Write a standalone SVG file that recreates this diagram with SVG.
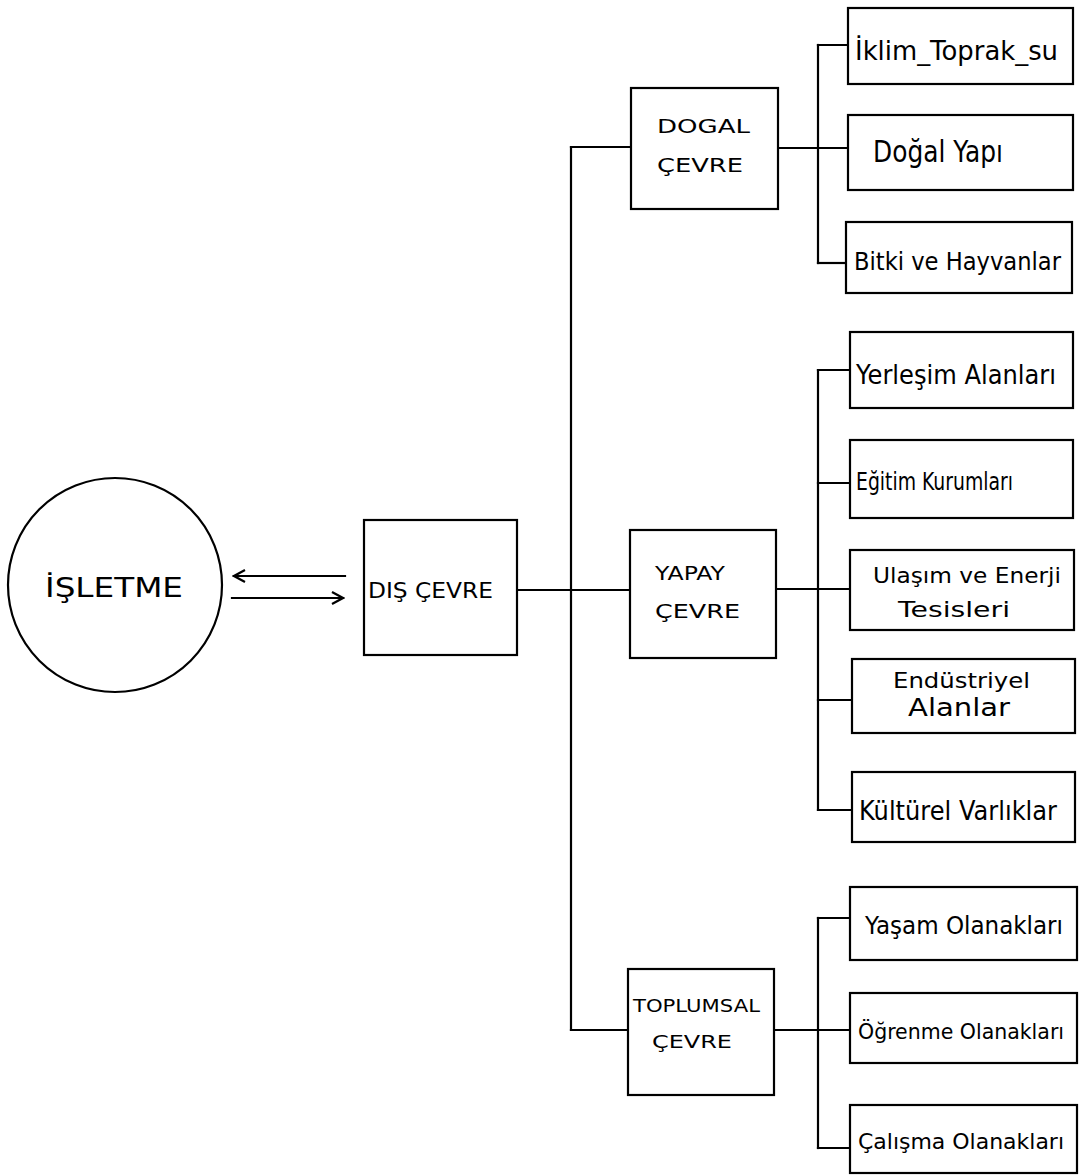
<svg xmlns="http://www.w3.org/2000/svg" width="1083" height="1175" viewBox="0 0 1083 1175">
<defs>
<style>
.box{fill:#fff;stroke:#000;stroke-width:2.2}
.ln{fill:none;stroke:#000;stroke-width:2.2;stroke-linecap:square}
.t{font-family:"DejaVu Sans","Liberation Sans",sans-serif;fill:#000;font-weight:normal}
</style>
<marker id="open" viewBox="0 0 14 14" refX="12" refY="7" markerWidth="14" markerHeight="14" markerUnits="userSpaceOnUse" orient="auto">
<path d="M1,1 L12,7 L1,13" fill="none" stroke="#000" stroke-width="2.2"/>
</marker>
</defs>
<rect width="1083" height="1175" fill="#fff"/>

<g id="connectors">
<line class="ln" x1="345" y1="576" x2="234" y2="576" marker-end="url(#open)"/>
<line class="ln" x1="232" y1="598" x2="343" y2="598" marker-end="url(#open)"/>
<line class="ln" x1="517" y1="590" x2="630" y2="590"/>
<line class="ln" x1="571" y1="147" x2="571" y2="1030"/>
<line class="ln" x1="571" y1="147" x2="631" y2="147"/>
<line class="ln" x1="571" y1="1030" x2="628" y2="1030"/>
<line class="ln" x1="778" y1="148" x2="848" y2="148"/>
<line class="ln" x1="818" y1="45" x2="818" y2="263"/>
<line class="ln" x1="818" y1="45" x2="848" y2="45"/>
<line class="ln" x1="818" y1="263" x2="846" y2="263"/>
<line class="ln" x1="776" y1="589" x2="850" y2="589"/>
<line class="ln" x1="818" y1="370" x2="818" y2="810"/>
<line class="ln" x1="818" y1="370" x2="850" y2="370"/>
<line class="ln" x1="818" y1="483" x2="850" y2="483"/>
<line class="ln" x1="818" y1="700" x2="852" y2="700"/>
<line class="ln" x1="818" y1="810" x2="852" y2="810"/>
<line class="ln" x1="774" y1="1030" x2="850" y2="1030"/>
<line class="ln" x1="818" y1="918" x2="818" y2="1148"/>
<line class="ln" x1="818" y1="918" x2="850" y2="918"/>
<line class="ln" x1="818" y1="1148" x2="850" y2="1148"/>
</g>

<g id="isletme">
<circle class="box" cx="115" cy="585" r="107"/>
<text class="t" x="45" y="597" font-size="26" textLength="138" lengthAdjust="spacingAndGlyphs">İŞLETME</text>
</g>
<g id="dis-cevre">
<rect class="box" x="364" y="520" width="153" height="135"/>
<text class="t" x="368" y="598" font-size="22" textLength="125" lengthAdjust="spacingAndGlyphs">DIŞ ÇEVRE</text>
</g>
<g id="dogal-cevre">
<rect class="box" x="631" y="88" width="147" height="121"/>
<text class="t" x="657" y="133" font-size="20" textLength="93" lengthAdjust="spacingAndGlyphs">DOGAL</text>
<text class="t" x="657" y="172" font-size="20" textLength="86" lengthAdjust="spacingAndGlyphs">ÇEVRE</text>
</g>
<g id="yapay-cevre">
<rect class="box" x="630" y="530" width="146" height="128"/>
<text class="t" x="655" y="580" font-size="20" textLength="70" lengthAdjust="spacingAndGlyphs">YAPAY</text>
<text class="t" x="655" y="618" font-size="20" textLength="85" lengthAdjust="spacingAndGlyphs">ÇEVRE</text>
</g>
<g id="toplumsal-cevre">
<rect class="box" x="628" y="969" width="146" height="126"/>
<text class="t" x="633" y="1012" font-size="18" textLength="127" lengthAdjust="spacingAndGlyphs">TOPLUMSAL</text>
<text class="t" x="652" y="1048" font-size="18" textLength="80" lengthAdjust="spacingAndGlyphs">ÇEVRE</text>
</g>

<g id="iklim">
<rect class="box" x="848" y="8" width="225" height="76"/>
<text class="t" x="855" y="60" font-size="26" textLength="203" lengthAdjust="spacingAndGlyphs">İklim_Toprak_su</text>
</g>
<g id="dogal-yapi">
<rect class="box" x="848" y="115" width="225" height="75"/>
<text class="t" x="873" y="162" font-size="30" textLength="130" lengthAdjust="spacingAndGlyphs">Doğal Yapı</text>
</g>
<g id="bitki">
<rect class="box" x="846" y="222" width="226" height="71"/>
<text class="t" x="854" y="270" font-size="24" textLength="207" lengthAdjust="spacingAndGlyphs">Bitki ve Hayvanlar</text>
</g>
<g id="yerlesim">
<rect class="box" x="850" y="332" width="223" height="76"/>
<text class="t" x="856" y="384" font-size="26" textLength="200" lengthAdjust="spacingAndGlyphs">Yerleşim Alanları</text>
</g>
<g id="egitim">
<rect class="box" x="850" y="440" width="223" height="78"/>
<text class="t" x="856" y="490" font-size="24" textLength="157" lengthAdjust="spacingAndGlyphs">Eğitim Kurumları</text>
</g>
<g id="ulasim">
<rect class="box" x="850" y="550" width="224" height="80"/>
<text class="t" x="873" y="583" font-size="22" textLength="188" lengthAdjust="spacingAndGlyphs">Ulaşım ve Enerji</text>
<text class="t" x="898" y="617" font-size="21" textLength="112" lengthAdjust="spacingAndGlyphs">Tesisleri</text>
</g>
<g id="endustriyel">
<rect class="box" x="852" y="659" width="223" height="74"/>
<text class="t" x="893" y="688" font-size="22" textLength="137" lengthAdjust="spacingAndGlyphs">Endüstriyel</text>
<text class="t" x="908" y="716" font-size="24" textLength="102" lengthAdjust="spacingAndGlyphs">Alanlar</text>
</g>
<g id="kulturel">
<rect class="box" x="852" y="772" width="223" height="70"/>
<text class="t" x="859" y="820" font-size="26" textLength="198" lengthAdjust="spacingAndGlyphs">Kültürel Varlıklar</text>
</g>
<g id="yasam">
<rect class="box" x="850" y="887" width="227" height="73"/>
<text class="t" x="865" y="934" font-size="25" textLength="198" lengthAdjust="spacingAndGlyphs">Yaşam Olanakları</text>
</g>
<g id="ogrenme">
<rect class="box" x="850" y="993" width="227" height="70"/>
<text class="t" x="858" y="1039" font-size="22" textLength="206" lengthAdjust="spacingAndGlyphs">Öğrenme Olanakları</text>
</g>
<g id="calisma">
<rect class="box" x="850" y="1105" width="227" height="68"/>
<text class="t" x="858" y="1149" font-size="22" textLength="206" lengthAdjust="spacingAndGlyphs">Çalışma Olanakları</text>
</g>
</svg>
